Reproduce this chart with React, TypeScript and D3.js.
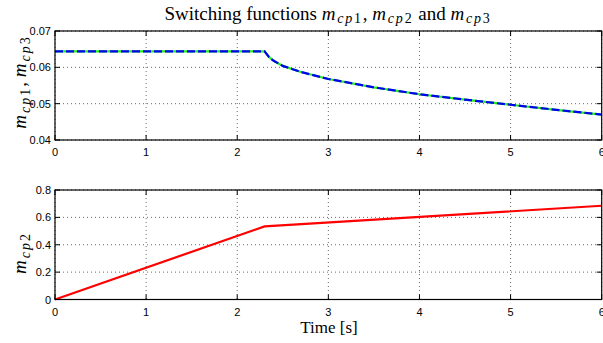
import React from "react";
import * as d3 from "d3";

const topTime = [0, 2.3, 2.35, 2.4, 2.5, 2.7, 3, 3.5, 4, 4.5, 5, 5.5, 6];
const mcp1 = [0.0644, 0.0644, 0.0628, 0.0618, 0.0604, 0.0587, 0.0568, 0.0545, 0.0526, 0.0511, 0.0497, 0.0483, 0.047];
const mcp3 = [0.0644, 0.0644, 0.0628, 0.0618, 0.0604, 0.0587, 0.0568, 0.0545, 0.0526, 0.0511, 0.0497, 0.0483, 0.047];
const botTime = [0, 2.3, 6];
const mcp2 = [0, 0.534, 0.685];
const xTicks = [0, 1, 2, 3, 4, 5, 6];
const yTicksTop = [0.04, 0.05, 0.06, 0.07];
const yTicksBot = [0, 0.2, 0.4, 0.6, 0.8];

const W = 603, H = 343;
const L = 55, R = 601.7;
const serif = "'Liberation Serif', 'Times New Roman', serif";
const sans = "'Liberation Sans', Arial, sans-serif";

function Panel({ top, bottom, yDomain, yTicks, fmt, children }: any) {
  const x = d3.scaleLinear().domain([0, 6]).range([L, R]);
  const y = d3.scaleLinear().domain(yDomain).range([bottom, top]);
  return (
    <g>
      {xTicks.map((t) => (
        <line key={"gx" + t} x1={x(t)} x2={x(t)} y1={top} y2={bottom} stroke="#444" strokeWidth={0.8} strokeDasharray="1,3" />
      ))}
      {yTicks.map((t: number) => (
        <line key={"gy" + t} x1={L} x2={R} y1={y(t)} y2={y(t)} stroke="#444" strokeWidth={0.8} strokeDasharray="1,3" />
      ))}
      {children(x, y)}
      <rect x={L} y={top} width={R - L} height={bottom - top} fill="none" stroke="#000" strokeWidth={1.2} />
      {xTicks.map((t) => (
        <g key={"tx" + t}>
          <line x1={x(t)} x2={x(t)} y1={bottom} y2={bottom - 5} stroke="#000" />
          <line x1={x(t)} x2={x(t)} y1={top} y2={top + 5} stroke="#000" />
          <text x={x(t)} y={bottom + 16} fontFamily={sans} fontSize={11} textAnchor="middle">{t}</text>
        </g>
      ))}
      {yTicks.map((t: number) => (
        <g key={"ty" + t}>
          <line x1={L} x2={L + 5} y1={y(t)} y2={y(t)} stroke="#000" />
          <line x1={R} x2={R - 5} y1={y(t)} y2={y(t)} stroke="#000" />
          <text x={L - 4} y={y(t) + 4} fontFamily={sans} fontSize={11} textAnchor="end">{fmt(t)}</text>
        </g>
      ))}
    </g>
  );
}

function Sym({ n, sub = 13, after, ls = 1.5 }: { n: string; sub?: number; after?: string; ls?: number }) {
  return (
    <>
      <tspan fontStyle="italic" letterSpacing={ls}>m</tspan>
      <tspan fontStyle="italic" fontSize={sub} dy={3.5} letterSpacing={ls}>cp</tspan>
      <tspan fontSize={sub} letterSpacing={ls}>{n}</tspan>
      {after ? <tspan dy={-3.5}>{after}</tspan> : null}
    </>
  );
}

export default function App() {
  const line = (xs: number[], ys: number[], x: any, y: any) =>
    d3.line<number>().x((_, i) => x(xs[i])).y((d) => y(d))(ys) || "";
  return (
    <svg width={W} height={H} style={{ position: "absolute", left: 0, top: 0, background: "#fff" }}>
      <rect width={W} height={H} fill="#fff" />
      <text x={328} y={19.5} fontFamily={serif} fontSize={19} textAnchor="middle">
        <tspan>Switching functions </tspan>
        <Sym n="1" sub={14} after=",  " ls={1.8} />
        <Sym n="2" sub={14} after=" and " ls={1.8} />
        <Sym n="3" sub={14} ls={1.8} />
      </text>
      <Panel top={31} bottom={140} yDomain={[0.04, 0.07]} yTicks={yTicksTop} fmt={(t: number) => t.toFixed(2)}>
        {(x: any, y: any) => (
          <g>
            <path d={line(topTime, mcp3, x, y)} fill="none" stroke="#22ee22" strokeWidth={2.2} />
            <path d={line(topTime, mcp1, x, y)} fill="none" stroke="#0000ee" strokeWidth={2.2} strokeDasharray="8,3" />
          </g>
        )}
      </Panel>
      <Panel top={190} bottom={299.5} yDomain={[0, 0.8]} yTicks={yTicksBot} fmt={(t: number) => (t === 0 ? "0" : t.toFixed(1))}>
        {(x: any, y: any) => (
          <path d={line(botTime, mcp2, x, y)} fill="none" stroke="#ff0000" strokeWidth={2.2} />
        )}
      </Panel>
      <text x={329} y={333} fontFamily={serif} fontSize={17} textAnchor="middle">Time [s]</text>
      <text transform="translate(26,82) rotate(-90)" fontFamily={serif} fontSize={19} textAnchor="middle">
        <Sym n="1" sub={14} after=",  " ls={2} />
        <Sym n="3" sub={14} ls={2} />
      </text>
      <text transform="translate(26,253) rotate(-90)" fontFamily={serif} fontSize={19} textAnchor="middle">
        <Sym n="2" sub={14} ls={2} />
      </text>
    </svg>
  );
}
